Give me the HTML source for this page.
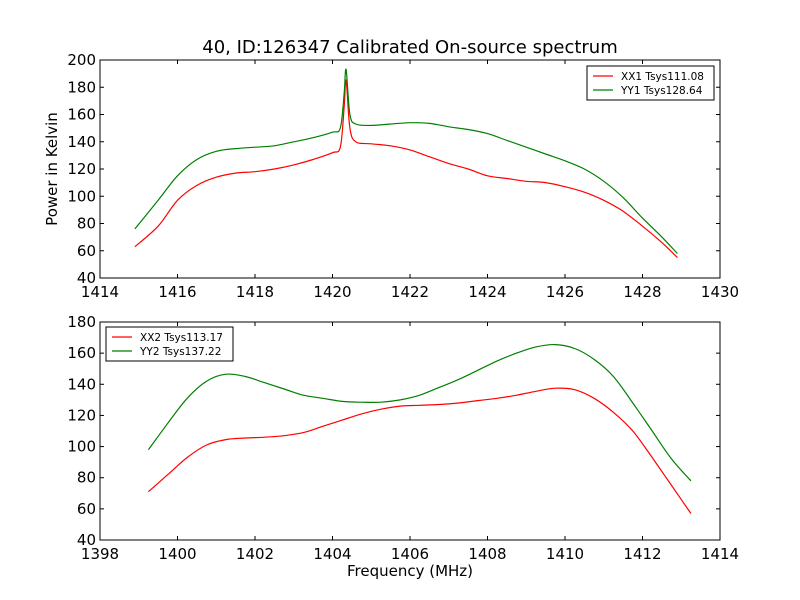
<!DOCTYPE html>
<html><head><meta charset="utf-8"><style>
body{margin:0;background:#fff;}
svg{display:block;font-family:"DejaVu Sans","Liberation Sans",sans-serif;}
</style></head><body>
<svg id="c" width="800" height="600"></svg>
<script>
const topFreq=[1414.9,1415.5,1416,1416.5,1417,1417.5,1418,1418.5,1419,1419.5,1420,1420.2,1420.3,1420.35,1420.45,1420.6,1421,1421.5,1422,1422.5,1423,1423.5,1424,1424.5,1425,1425.5,1426,1426.5,1427,1427.5,1428,1428.5,1428.9];
const xx1=[63,78,97,108,114,117,118,120,123,127,132,136,165,185,150,140,138.5,137,134,129,124,120,115,113,111,110,107,103,97,89,78,66,55];
const yy1=[76,97,115,127,133,135,136,137,140,143,147,150,175,193,160,153,152,153,154,153.5,151,149,146,141,136,131,126,120,111,99,84,70,58];
const botFreq=[1399.25,1399.75,1400.25,1400.75,1401.25,1401.75,1402.25,1402.75,1403.25,1403.75,1404.25,1404.75,1405.25,1405.75,1406.25,1406.75,1407.25,1407.75,1408.25,1408.75,1409.25,1409.75,1410.25,1410.75,1411.25,1411.75,1412.25,1412.75,1413.25];
const xx2=[71,82,93,101,104.5,105.5,106,107,109,113,117,121,124,126,126.5,127,128,129.5,131,133,135.5,137.5,136.5,131,122,110,93,75,57];
const yy2=[98,115,131,142,146.5,145,141,137,133,131,129,128.5,128.5,130,133,138,143,149,155,160,164,165.5,163,156,145,128,110,92,78];
const topXTicks=[1414,1416,1418,1420,1422,1424,1426,1428,1430];
const topYTicks=[40,60,80,100,120,140,160,180,200];
const botXTicks=[1398,1400,1402,1404,1406,1408,1410,1412,1414];
const botYTicks=[40,60,80,100,120,140,160,180];
const NS="http://www.w3.org/2000/svg";
const svg=document.getElementById('c');
function el(t,a,p){const e=document.createElementNS(NS,t);for(const k in a)e.setAttribute(k,a[k]);(p||svg).appendChild(e);return e;}
function smoothPath(pts){
  let d='M'+pts[0][0].toFixed(1)+','+pts[0][1].toFixed(1);
  for(let i=0;i<pts.length-1;i++){
    const p0=pts[Math.max(0,i-1)],p1=pts[i],p2=pts[i+1],p3=pts[Math.min(pts.length-1,i+2)];
    const k=1/6;
    const c1=[p1[0]+(p2[0]-p0[0])*k,p1[1]+(p2[1]-p0[1])*k];
    const c2=[p2[0]-(p3[0]-p1[0])*k,p2[1]-(p3[1]-p1[1])*k];
    c1[0]=Math.min(Math.max(c1[0],p1[0]),p2[0]);c2[0]=Math.min(Math.max(c2[0],p1[0]),p2[0]);
    d+=' C'+c1[0].toFixed(1)+','+c1[1].toFixed(1)+' '+c2[0].toFixed(1)+','+c2[1].toFixed(1)+' '+p2[0].toFixed(1)+','+p2[1].toFixed(1);
  }
  return d;
}
function panel(name,y0,y1,xmin,xmax,ymin,ymax,xt,yt,series,legend){
  const X0=100,X1=720;
  const sx=v=>X0+(v-xmin)/(xmax-xmin)*(X1-X0);
  const sy=v=>y1-(v-ymin)/(ymax-ymin)*(y1-y0);
  const g=el('g',{});
  
  
  series.forEach(s=>{
    const p=el('path',{d:smoothPath(s.x.map((f,i)=>[sx(f),sy(s.y[i])])),fill:'none',stroke:s.c,'stroke-width':1.2},g);
    
    
  });
  const fr=el('rect',{x:X0,y:y0,width:X1-X0,height:y1-y0,fill:'none',stroke:'#000','stroke-width':1},g);
  
  
  xt.forEach(v=>{const x=sx(v);
    el('line',{x1:x,x2:x,y1:y1,y2:y1-4,stroke:'#000'},g);el('line',{x1:x,x2:x,y1:y0,y2:y0+4,stroke:'#000'},g);
    const t=el('text',{x:x,y:y1+19,'text-anchor':'middle','font-size':15},g);t.textContent=v;
    
    });
  yt.forEach(v=>{const y=sy(v);
    el('line',{x1:X0,x2:X0+4,y1:y,y2:y,stroke:'#000'},g);el('line',{x1:X1,x2:X1-4,y1:y,y2:y,stroke:'#000'},g);
    const t=el('text',{x:X0-4,y:y+5,'text-anchor':'end','font-size':15},g);t.textContent=v;
    
    });
  const lg=el('g',{},g);
  
  
  el('rect',{x:legend.x,y:legend.y,width:127,height:34,fill:'#fff',stroke:'#000'},lg);
  series.forEach((s,i)=>{const yy=legend.y+10+i*14;
    el('line',{x1:legend.x+6,x2:legend.x+26,y1:yy,y2:yy,stroke:s.c,'stroke-width':1.2},lg);
    const t=el('text',{x:legend.x+34,y:yy+4,'font-size':10.5},lg);t.textContent=s.label;
    
    });
}
panel('top-panel',60,278,1414,1430,40,200,topXTicks,topYTicks,
 [{x:topFreq,y:xx1,c:'#ff0000',name:'xx1-line',label:'XX1 Tsys111.08'},{x:topFreq,y:yy1,c:'#008000',name:'yy1-line',label:'YY1 Tsys128.64'}],{x:587,y:66});
panel('bottom-panel',322,540,1398,1414,40,180,botXTicks,botYTicks,
 [{x:botFreq,y:xx2,c:'#ff0000',name:'xx2-line',label:'XX2 Tsys113.17'},{x:botFreq,y:yy2,c:'#008000',name:'yy2-line',label:'YY2 Tsys137.22'}],{x:106,y:327});
let t=el('text',{x:410,y:53,'text-anchor':'middle','font-size':18});t.textContent='40, ID:126347 Calibrated On-source spectrum';


t=el('text',{x:410,y:576,'text-anchor':'middle','font-size':15});t.textContent='Frequency (MHz)';


t=el('text',{x:57,y:169,'text-anchor':'middle','font-size':15,transform:'rotate(-90 57 169)'});t.textContent='Power in Kelvin';


</script>
</body></html>
